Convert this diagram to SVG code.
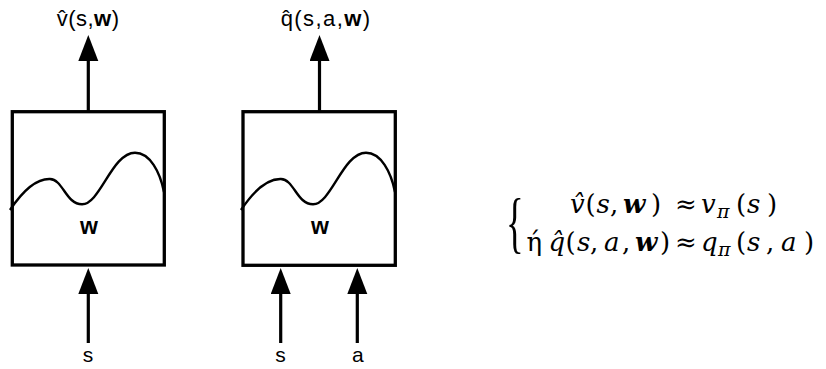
<svg xmlns="http://www.w3.org/2000/svg" width="826" height="369" viewBox="0 0 826 369">
<style>
.box{fill:none;stroke:#000;stroke-width:3.3}
.wave{fill:none;stroke:#000;stroke-width:2.4}
.conn{stroke:#000;stroke-width:3.2;fill:none}
.lbl{font-family:"Liberation Sans",Arial,sans-serif;fill:#000}
.eq{font-family:"DejaVu Serif",serif;font-size:26px;fill:#000}
.it{font-style:italic}
.bi{font-style:italic;font-weight:bold}
.sub{font-size:19px;font-style:italic}
</style>
<defs>
<marker id="ah" markerUnits="userSpaceOnUse" markerWidth="28" markerHeight="22" refX="0" refY="10" orient="auto" viewBox="0 0 28 22">
<path d="M0,0 L26,10 L0,20 Z" fill="#000"/>
</marker>
<path id="wavePath" d="M10,210 C22,192 36,178.5 50,179 C63,179.5 66,204.3 82,204.3 C100,204.5 112,152.7 135,152.7 C150,152.7 160,172 164,192"/>
</defs>
<g id="connectors">
<line class="conn" x1="88.3" y1="111" x2="88.3" y2="61" marker-end="url(#ah)"/>
<line class="conn" x1="319.5" y1="111" x2="319.5" y2="61" marker-end="url(#ah)"/>
<line class="conn" x1="88.3" y1="343" x2="88.3" y2="294" marker-end="url(#ah)"/>
<line class="conn" x1="280.7" y1="343" x2="280.7" y2="294" marker-end="url(#ah)"/>
<line class="conn" x1="357.3" y1="343" x2="357.3" y2="294" marker-end="url(#ah)"/>
</g>
<g id="v-net">
<rect class="box" x="12.3" y="111.7" width="152" height="153.3"/>
<use href="#wavePath" class="wave"/>
<text class="lbl" x="89" y="234" font-size="23" font-weight="bold" text-anchor="middle">w</text>
</g>
<g id="q-net">
<rect class="box" x="243" y="111.7" width="152.3" height="153.6"/>
<use href="#wavePath" class="wave" transform="translate(231,0)"/>
<text class="lbl" x="320" y="234" font-size="23" font-weight="bold" text-anchor="middle">w</text>
</g>
<g id="labels">
<text class="lbl" x="56.7" y="26" font-size="22" textLength="62.3" lengthAdjust="spacing">v̂(s,<tspan font-weight="bold">w</tspan>)</text>
<text class="lbl" x="280.7" y="26" font-size="22" textLength="89.3" lengthAdjust="spacing">q̂(s,a,<tspan font-weight="bold">w</tspan>)</text>
<text class="lbl" x="88" y="361.5" font-size="21" text-anchor="middle">s</text>
<text class="lbl" x="280.5" y="361.5" font-size="21" text-anchor="middle">s</text>
<text class="lbl" x="357.8" y="361.5" font-size="21" text-anchor="middle">a</text>
</g>
<g id="equation">
<text font-family="'Liberation Serif',serif" font-size="40" transform="translate(506,244.7) scale(0.92,1.715)">{</text>
<text class="eq" y="213"><tspan class="it" x="570">v̂</tspan><tspan x="585.5">(</tspan><tspan class="it" x="596.5">s</tspan><tspan x="610">,</tspan><tspan class="bi" x="623">w</tspan><tspan x="651">)</tspan><tspan x="675">≈</tspan><tspan class="it" x="701">v</tspan><tspan class="sub" x="717" y="218">π</tspan><tspan x="736" y="213">(</tspan><tspan class="it" x="747">s</tspan><tspan x="767">)</tspan></text>
<text class="eq" y="251"><tspan x="526.5">ή</tspan><tspan class="it" x="548.5">q̂</tspan><tspan x="565.5">(</tspan><tspan class="it" x="577">s</tspan><tspan x="590">,</tspan><tspan class="it" x="604">a</tspan><tspan x="622">,</tspan><tspan class="bi" x="635">w</tspan><tspan x="660">)</tspan><tspan x="675">≈</tspan><tspan class="it" x="701">q</tspan><tspan class="sub" x="718" y="256">π</tspan><tspan x="736" y="251">(</tspan><tspan class="it" x="747">s</tspan><tspan x="766">,</tspan><tspan class="it" x="781">a</tspan><tspan x="804">)</tspan></text>
</g>
</svg>
